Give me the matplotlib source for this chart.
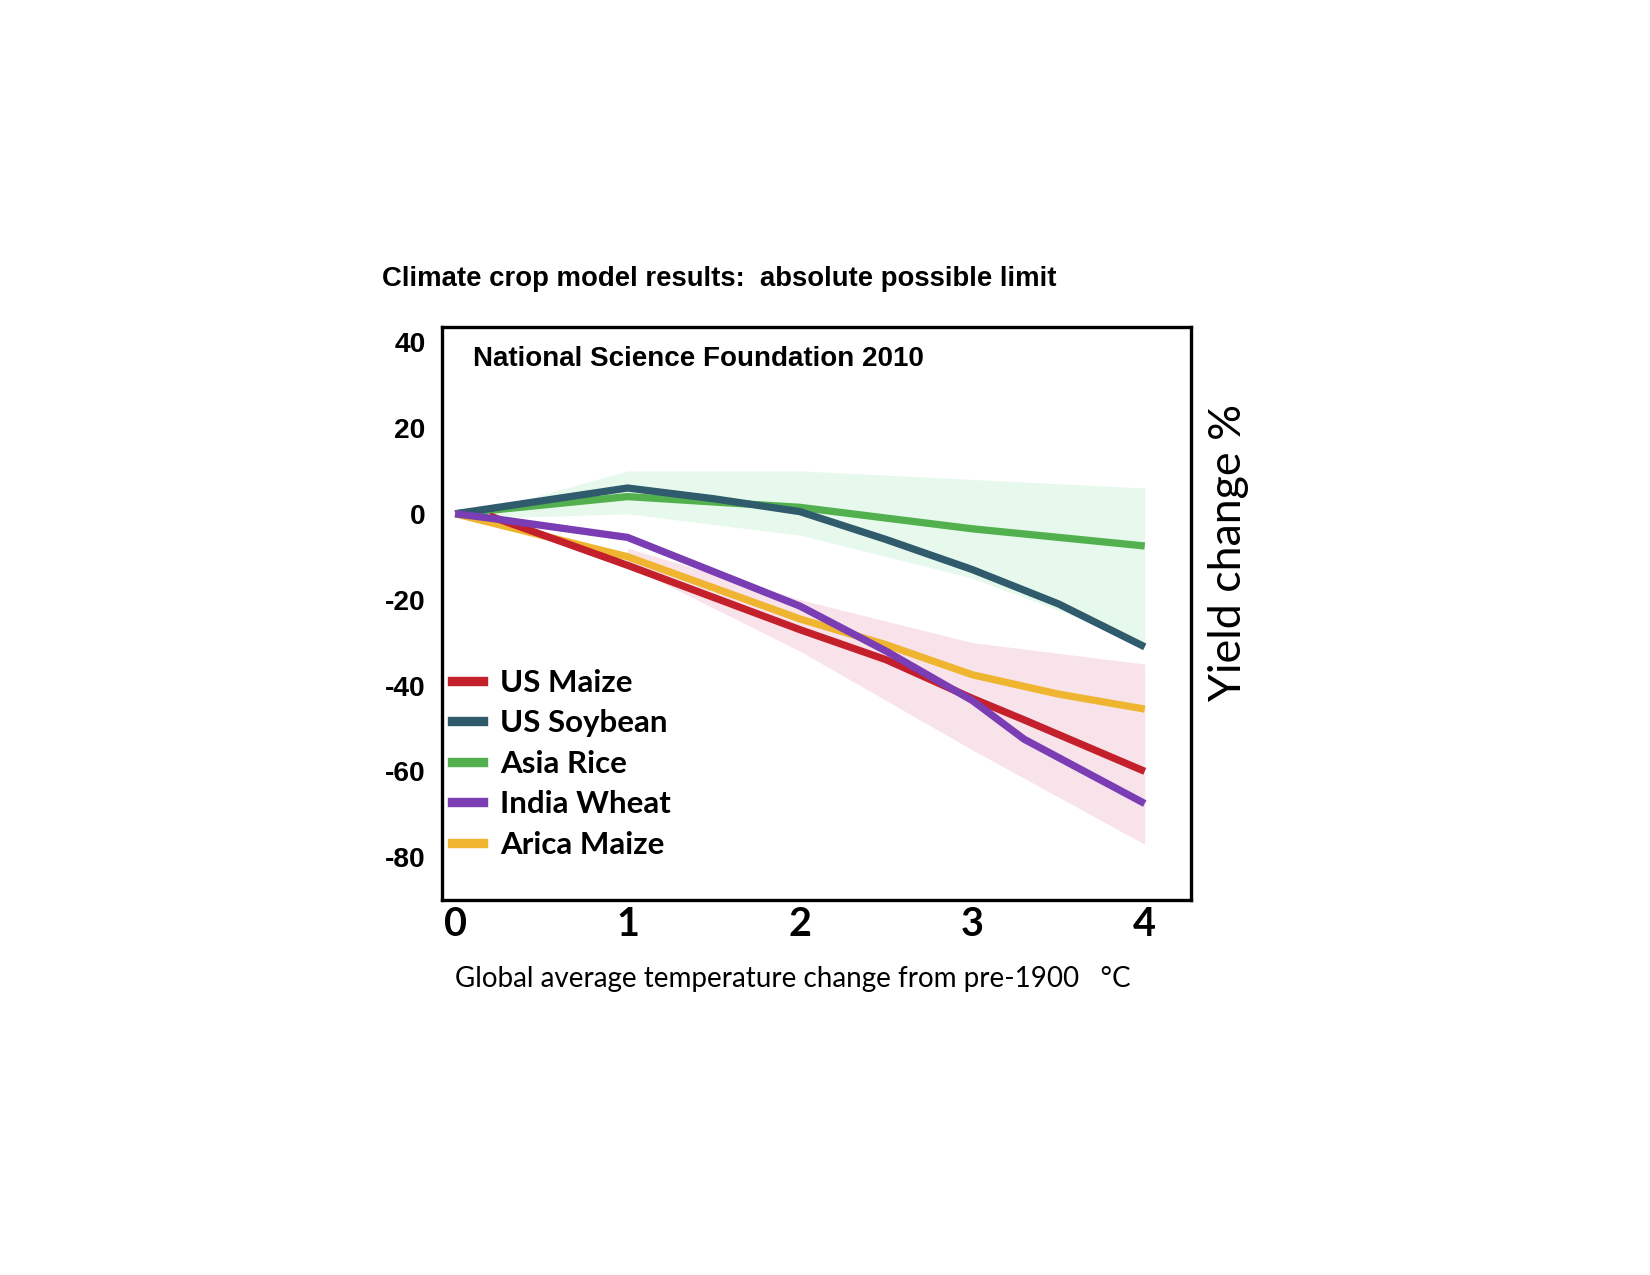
import numpy as np
import matplotlib
matplotlib.use("Agg")
import matplotlib.pyplot as plt

plt.rcParams["axes.unicode_minus"] = False

# Temperature change (°C) and yield change (%)
x_maize_us = [0.2, 1, 2, 2.5, 3, 3.3, 4]
y_maize_us = [-0.5, -12, -27, -34, -43, -48, -60]

x_soy = [0, 1, 1.5, 2, 2.5, 3, 3.5, 4]
y_soy = [0, 6, 3.5, 0.5, -6, -13, -21, -31]

x_rice = [0, 1, 2, 2.5, 3, 3.5, 4]
y_rice = [0, 4, 1.5, -1, -3.5, -5.5, -7.5]

x_wheat = [0, 0.2, 1, 1.5, 2, 2.5, 3, 3.3, 4]
y_wheat = [0, -1, -5.5, -13.5, -21.5, -32, -43.5, -52.5, -67.5]

x_maize_af = [0, 1, 2, 2.5, 3, 3.5, 4]
y_maize_af = [0, -10, -24.5, -30.5, -37.5, -42, -45.5]

# faint uncertainty bands
band_green_x = [0.2, 1, 2, 3, 4]
band_green_hi = [1, 10, 10, 8, 6]
band_green_lo = [-1, 0, -5, -15, -30]

band_pink_x = [1, 2, 3, 4]
band_pink_hi = [-8, -20, -30, -35]
band_pink_lo = [-12, -32, -55, -77]

labels = ["US Maize", "US Soybean", "Asia Rice", "India Wheat", "Arica Maize"]
colors = ["#c4202b", "#2f5b6d", "#52b04e", "#7a3db3", "#f0b530"]

fig = plt.figure(figsize=(11, 8.5), dpi=150)
ax = fig.add_axes([0.268, 0.294, 0.454, 0.4495])

ax.fill_between(band_green_x, band_green_lo, band_green_hi, color="#b9efc9", alpha=0.35, lw=0)
ax.fill_between(band_pink_x, band_pink_lo, band_pink_hi, color="#f0b0c8", alpha=0.35, lw=0)

lw = 3.5
ax.plot(x_rice, y_rice, color=colors[2], lw=lw, solid_capstyle="butt", zorder=3)
ax.plot(x_soy, y_soy, color=colors[1], lw=lw, solid_capstyle="butt", zorder=3)
ax.plot(x_maize_af, y_maize_af, color=colors[4], lw=lw, solid_capstyle="butt", zorder=3)
ax.plot(x_maize_us, y_maize_us, color=colors[0], lw=lw, solid_capstyle="butt", zorder=3)
ax.plot(x_wheat, y_wheat, color=colors[3], lw=lw, solid_capstyle="butt", zorder=3)

ax.set_xlim(-0.075, 4.27)
ax.set_ylim(-90, 43.5)
ax.set_xticks([0, 1, 2, 3, 4])
ax.set_yticks([40, 20, 0, -20, -40, -60, -80])
ax.tick_params(length=0)
ax.tick_params(axis="x", pad=3)
ax.tick_params(axis="y", pad=8)
for t in ax.get_xticklabels():
    t.set_fontfamily("Lato")
    t.set_fontweight("bold")
    t.set_fontsize(19)
for t in ax.get_yticklabels():
    t.set_fontfamily("Liberation Sans")
    t.set_fontweight("bold")
    t.set_fontsize(13.5)
for s in ax.spines.values():
    s.set_linewidth(1.6)

ax.text(0.041, 0.932, "National Science Foundation 2010", transform=ax.transAxes,
        family="Liberation Sans", fontweight="bold",
        fontsize=13.3, va="baseline", ha="left")

handles = [plt.Line2D([], [], color=c, lw=4.5) for c in colors]
leg = ax.legend(handles, labels, loc="upper left", bbox_to_anchor=(0.0, 0.42),
                frameon=False, handlelength=1.0, handletextpad=0.55, labelspacing=0.4,
                prop={"family": "Lato", "weight": "bold", "size": 15},
                borderaxespad=0.0, borderpad=0.3)

fig.text(0.2315, 0.7757, "Climate crop model results:  absolute possible limit",
         family="Liberation Sans", fontweight="bold",
         fontsize=13.2, va="baseline", ha="left")

fig.text(0.2758, 0.226, "Global average temperature change from pre-1900   \u00b0C",
         family="Lato", fontsize=13.3, va="baseline", ha="left")

fig.text(0.7445, 0.567, "Yield change %", family="Lato", fontsize=21.5,
         rotation=90, va="center", ha="center")

fig.savefig("out.png", dpi=150, facecolor="white")
